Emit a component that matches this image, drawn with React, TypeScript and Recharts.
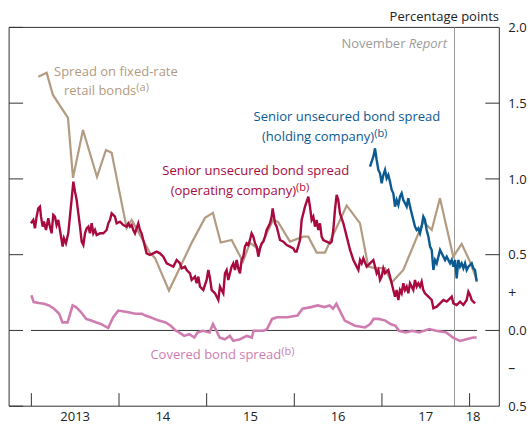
import { LineChart, Line, XAxis, YAxis, ReferenceLine } from "recharts";

// [decimal year, percentage points]
const RETAIL_BONDS: [number, number][] = [
  [2013.079, 1.675], [2013.175, 1.7], [2013.246, 1.554], [2013.418, 1.403],
  [2013.475, 1.007], [2013.589, 1.323], [2013.749, 1.013], [2013.851, 1.191],
  [2013.916, 1.172], [2014.087, 0.677], [2014.144, 0.729], [2014.353, 0.512],
  [2014.41, 0.479], [2014.57, 0.263], [2014.829, 0.578], [2014.981, 0.743],
  [2015.072, 0.776], [2015.16, 0.58], [2015.285, 0.597], [2015.414, 0.454],
  [2015.494, 0.578], [2015.529, 0.564], [2015.597, 0.531], [2015.757, 0.729],
  [2015.814, 0.716], [2015.951, 0.586], [2016.102, 0.619], [2016.16, 0.619],
  [2016.255, 0.514], [2016.35, 0.514], [2016.598, 0.824], [2016.749, 0.708],
  [2016.844, 0.421], [2016.921, 0.411], [2017.035, 0.411], [2017.111, 0.316],
  [2017.244, 0.399], [2017.472, 0.718], [2017.568, 0.663], [2017.662, 0.873],
  [2017.814, 0.487], [2017.91, 0.571], [2018.005, 0.454], [2018.081, 0.333],
];

const SENIOR_OPCO: [number, number][] = [
  [2012.995, 0.707], [2013.022, 0.729], [2013.041, 0.674], [2013.06, 0.751],
  [2013.079, 0.806], [2013.098, 0.817], [2013.11, 0.751], [2013.129, 0.685],
  [2013.144, 0.718], [2013.167, 0.663], [2013.193, 0.74], [2013.212, 0.685],
  [2013.231, 0.641], [2013.25, 0.762], [2013.269, 0.751], [2013.288, 0.696],
  [2013.307, 0.729], [2013.326, 0.663], [2013.345, 0.597], [2013.357, 0.553],
  [2013.372, 0.608], [2013.395, 0.575], [2013.421, 0.641], [2013.44, 0.751],
  [2013.459, 0.861], [2013.479, 0.982], [2013.498, 0.916], [2013.517, 0.861],
  [2013.536, 0.773], [2013.555, 0.685], [2013.574, 0.586], [2013.593, 0.564],
  [2013.612, 0.641], [2013.631, 0.674], [2013.65, 0.685], [2013.669, 0.641],
  [2013.688, 0.707], [2013.707, 0.641], [2013.726, 0.663], [2013.745, 0.63],
  [2013.783, 0.641], [2013.821, 0.641], [2013.859, 0.663], [2013.878, 0.707],
  [2013.897, 0.729], [2013.916, 0.773], [2013.954, 0.751], [2013.973, 0.707],
  [2014.011, 0.718], [2014.049, 0.696], [2014.087, 0.685], [2014.106, 0.707],
  [2014.125, 0.685], [2014.144, 0.696], [2014.163, 0.663], [2014.182, 0.641],
  [2014.22, 0.707], [2014.239, 0.663], [2014.258, 0.641], [2014.277, 0.597],
  [2014.296, 0.553], [2014.315, 0.509], [2014.353, 0.498], [2014.391, 0.509],
  [2014.429, 0.52], [2014.467, 0.509], [2014.506, 0.487], [2014.544, 0.443],
  [2014.582, 0.432], [2014.62, 0.421], [2014.658, 0.465], [2014.696, 0.443],
  [2014.715, 0.41], [2014.753, 0.421], [2014.772, 0.399], [2014.81, 0.377],
  [2014.829, 0.333], [2014.867, 0.355], [2014.886, 0.311], [2014.905, 0.355],
  [2014.924, 0.289], [2014.962, 0.267], [2015.0, 0.333], [2015.019, 0.399],
  [2015.038, 0.344], [2015.057, 0.267], [2015.095, 0.245], [2015.133, 0.201],
  [2015.152, 0.289], [2015.171, 0.267], [2015.19, 0.245], [2015.209, 0.377],
  [2015.228, 0.399], [2015.247, 0.333], [2015.266, 0.377], [2015.285, 0.421],
  [2015.304, 0.443], [2015.323, 0.399], [2015.342, 0.465], [2015.361, 0.41],
  [2015.38, 0.377], [2015.399, 0.465], [2015.418, 0.487], [2015.437, 0.553],
  [2015.456, 0.575], [2015.476, 0.564], [2015.494, 0.597], [2015.513, 0.641],
  [2015.533, 0.619], [2015.552, 0.575], [2015.571, 0.553], [2015.59, 0.487],
  [2015.609, 0.542], [2015.628, 0.575], [2015.647, 0.586], [2015.666, 0.619],
  [2015.685, 0.663], [2015.704, 0.685], [2015.723, 0.707], [2015.742, 0.751],
  [2015.753, 0.806], [2015.768, 0.751], [2015.78, 0.707], [2015.799, 0.685],
  [2015.818, 0.641], [2015.837, 0.597], [2015.875, 0.586], [2015.913, 0.564],
  [2015.951, 0.553], [2015.989, 0.542], [2016.008, 0.52], [2016.027, 0.52],
  [2016.065, 0.597], [2016.084, 0.729], [2016.103, 0.773], [2016.122, 0.817],
  [2016.141, 0.85], [2016.16, 0.883], [2016.179, 0.817], [2016.198, 0.729],
  [2016.217, 0.751], [2016.236, 0.685], [2016.255, 0.729], [2016.274, 0.663],
  [2016.293, 0.707], [2016.312, 0.619], [2016.331, 0.597], [2016.369, 0.586],
  [2016.407, 0.575], [2016.426, 0.586], [2016.445, 0.663], [2016.464, 0.795],
  [2016.483, 0.894], [2016.502, 0.861], [2016.521, 0.773], [2016.56, 0.707],
  [2016.598, 0.619], [2016.636, 0.531], [2016.674, 0.465], [2016.712, 0.421],
  [2016.731, 0.399], [2016.75, 0.465], [2016.769, 0.443], [2016.788, 0.476],
  [2016.826, 0.421], [2016.864, 0.443], [2016.902, 0.465], [2016.921, 0.421],
  [2016.94, 0.377], [2016.959, 0.399], [2016.978, 0.333], [2016.997, 0.355],
  [2017.016, 0.41], [2017.035, 0.377], [2017.073, 0.399], [2017.092, 0.355],
  [2017.111, 0.311], [2017.13, 0.267], [2017.149, 0.223], [2017.168, 0.267],
  [2017.187, 0.201], [2017.206, 0.267], [2017.225, 0.245], [2017.244, 0.311],
  [2017.263, 0.267], [2017.282, 0.289], [2017.301, 0.245], [2017.32, 0.311],
  [2017.339, 0.289], [2017.358, 0.267], [2017.377, 0.333], [2017.396, 0.289],
  [2017.415, 0.311], [2017.434, 0.289], [2017.453, 0.322], [2017.472, 0.267],
  [2017.491, 0.245], [2017.53, 0.223], [2017.568, 0.201], [2017.587, 0.146],
  [2017.625, 0.157], [2017.663, 0.179], [2017.701, 0.201], [2017.739, 0.19],
  [2017.777, 0.212], [2017.796, 0.223], [2017.815, 0.179], [2017.853, 0.168],
  [2017.891, 0.19], [2017.929, 0.168], [2017.967, 0.201], [2017.986, 0.256],
  [2018.005, 0.234], [2018.024, 0.201], [2018.062, 0.179],
];

const SENIOR_HOLDCO: [number, number][] = [
  [2016.864, 1.081], [2016.883, 1.114], [2016.902, 1.147], [2016.921, 1.202],
  [2016.94, 1.125], [2016.959, 1.059], [2016.978, 1.037], [2016.997, 0.971],
  [2017.016, 1.026], [2017.035, 1.059], [2017.054, 1.004], [2017.073, 1.026],
  [2017.092, 0.982], [2017.111, 0.927], [2017.13, 0.905], [2017.149, 0.817],
  [2017.168, 0.861], [2017.187, 0.828], [2017.206, 0.883], [2017.225, 0.905],
  [2017.244, 0.861], [2017.263, 0.839], [2017.282, 0.817], [2017.301, 0.872],
  [2017.32, 0.817], [2017.339, 0.773], [2017.358, 0.729], [2017.377, 0.685],
  [2017.396, 0.663], [2017.415, 0.674], [2017.434, 0.641], [2017.453, 0.685],
  [2017.472, 0.751], [2017.491, 0.729], [2017.51, 0.663], [2017.53, 0.619],
  [2017.549, 0.553], [2017.568, 0.531], [2017.587, 0.399], [2017.606, 0.465],
  [2017.625, 0.443], [2017.644, 0.487], [2017.663, 0.531], [2017.682, 0.509],
  [2017.701, 0.487], [2017.72, 0.465], [2017.739, 0.487], [2017.777, 0.443],
  [2017.796, 0.465], [2017.815, 0.421], [2017.834, 0.465], [2017.853, 0.344],
  [2017.872, 0.465], [2017.891, 0.421], [2017.91, 0.443], [2017.929, 0.41],
  [2017.948, 0.443], [2017.967, 0.399], [2017.986, 0.421], [2018.005, 0.432],
  [2018.024, 0.443], [2018.043, 0.41], [2018.062, 0.399], [2018.081, 0.322],
];

const COVERED_BONDS: [number, number][] = [
  [2013.0, 0.232], [2013.027, 0.187], [2013.085, 0.181], [2013.143, 0.176],
  [2013.201, 0.165], [2013.259, 0.143], [2013.317, 0.11], [2013.355, 0.053],
  [2013.413, 0.053], [2013.471, 0.165], [2013.51, 0.154], [2013.568, 0.12],
  [2013.625, 0.076], [2013.683, 0.065], [2013.741, 0.053], [2013.799, 0.042],
  [2013.876, 0.016], [2013.934, 0.087], [2013.992, 0.131], [2014.108, 0.12],
  [2014.185, 0.11], [2014.262, 0.11], [2014.301, 0.098], [2014.358, 0.087],
  [2014.455, 0.065], [2014.532, 0.053], [2014.59, 0.031], [2014.648, -0.002],
  [2014.686, -0.013], [2014.744, -0.036], [2014.802, -0.025], [2014.86, -0.047],
  [2014.898, -0.013], [2014.956, -0.002], [2015.033, -0.013], [2015.072, 0.042],
  [2015.111, -0.002], [2015.149, -0.047], [2015.207, -0.058], [2015.265, -0.036],
  [2015.304, -0.069], [2015.381, -0.058], [2015.458, -0.036], [2015.516, -0.047],
  [2015.535, -0.002], [2015.573, -0.002], [2015.651, -0.002], [2015.689, 0.009],
  [2015.747, 0.076], [2015.805, 0.087], [2015.921, 0.087], [2016.036, 0.098],
  [2016.094, 0.143], [2016.19, 0.154], [2016.268, 0.165], [2016.344, 0.154],
  [2016.403, 0.165], [2016.441, 0.143], [2016.48, 0.176], [2016.519, 0.131],
  [2016.576, 0.065], [2016.692, 0.031], [2016.808, 0.02], [2016.866, 0.042],
  [2016.905, 0.076], [2016.962, 0.076], [2017.039, 0.065], [2017.097, 0.042],
  [2017.155, 0.031], [2017.193, -0.002], [2017.271, -0.013], [2017.347, -0.002],
  [2017.425, -0.013], [2017.54, 0.009], [2017.618, -0.002], [2017.733, -0.013],
  [2017.811, -0.047], [2017.889, -0.069], [2017.965, -0.058], [2018.042, -0.047],
  [2018.081, -0.047],
];

const YEAR_STARTS = [2013, 2014, 2015, 2016, 2017, 2018];
const YEAR_LABEL_AT = [2013.5, 2014.5, 2015.5, 2016.5, 2017.5, 2018.04];
const YEAR_LABELS = ["2013", "14", "15", "16", "17", "18"];
const VALUE_TICKS = [-0.5, 0, 0.5, 1, 1.5, 2];
const RIGHT_TICKS = [-0.5, -0.25, 0, 0.25, 0.5, 1, 1.5, 2];
const NOV_REPORT = 2017.828;
const X_DOMAIN: [number, number] = [2012.746, 2018.339];
const Y_DOMAIN: [number, number] = [-0.5, 2];
const ZERO_LINE_FROM = 2012.995;
const ZERO_LINE_TO = 2018.085;

const TAN = "#b29b80";
const CRIMSON = "#a80a3f";
const BLUE = "#0b5a92";
const PINK = "#cf7db1";
const FRAME = "#333333";
const FONT = "'Open Sans', sans-serif";

const rows = (pts: [number, number][]) => pts.map(([t, v]) => ({ t, v }));

const Blank = () => <g />;

// year starts get an inward mark from the bottom frame, mid-years get the label
const YearTick = (props: any) => {
  const { x, y, payload } = props;
  const v = payload.value as number;
  const i = YEAR_LABEL_AT.indexOf(v);
  if (i < 0) return <line x1={x} x2={x} y1={y} y2={y - 13} stroke={FRAME} />;
  return (
    <text x={x} y={y + 15} textAnchor="middle" fontSize={13} fill="#222" fontFamily={FONT}>
      {YEAR_LABELS[i]}
    </text>
  );
};

const rightLabel = (v: number) => {
  if (v === 0.25) return "+";
  if (v === -0.25) return "–";
  return Math.abs(v).toFixed(1);
};

// label sits 9px right of the frame; numeric ticks also get a 14px inward mark
const RightTick = (props: any) => {
  const { x, y, payload } = props;
  const v = payload.value as number;
  const isSign = Math.abs(v) === 0.25;
  const edge = x - 9;
  return (
    <g>
      {!isSign && v !== 2 && v !== -0.5 && (
        <line x1={edge} x2={edge - 14} y1={y} y2={y} stroke={FRAME} />
      )}
      <text x={x} y={y} dy="0.36em" fontSize={isSign ? 14 : 13} fill="#222" fontFamily={FONT}>
        {rightLabel(v)}
      </text>
    </g>
  );
};

export default function App() {
  return (
    <div style={{ position: "fixed", left: 0, top: 0, width: 530, height: 425, background: "#fff", fontFamily: FONT }}>
      <LineChart width={530} height={425} margin={{ top: 27.4, right: 0, bottom: 0, left: 0 }}>
        <XAxis
          xAxisId="year"
          type="number"
          dataKey="t"
          domain={X_DOMAIN}
          allowDataOverflow
          ticks={[...YEAR_STARTS, ...YEAR_LABEL_AT].sort((a, b) => a - b)}
          tickLine={false}
          tickSize={0}
          tickMargin={0}
          tick={YearTick}
          height={18.8}
          interval={0}
          stroke={FRAME}
        />
        <YAxis
          yAxisId="main"
          orientation="right"
          type="number"
          domain={Y_DOMAIN}
          allowDataOverflow
          ticks={RIGHT_TICKS}
          tickLine={false}
          tickSize={0}
          tickMargin={9}
          width={30.7}
          interval={0}
          stroke={FRAME}
          tick={RightTick}
        />
        <YAxis
          yAxisId="left"
          orientation="left"
          type="number"
          domain={Y_DOMAIN}
          allowDataOverflow
          ticks={VALUE_TICKS}
          tickSize={-14}
          tick={Blank}
          width={9.1}
          interval={0}
          stroke={FRAME}
        />
        <ReferenceLine xAxisId="year" yAxisId="main" y={2} stroke={FRAME} />
        <ReferenceLine
          xAxisId="year"
          yAxisId="main"
          segment={[{ x: ZERO_LINE_FROM, y: 0 }, { x: ZERO_LINE_TO, y: 0 }]}
          stroke={FRAME}
        />
        <ReferenceLine xAxisId="year" yAxisId="main" x={NOV_REPORT} stroke="#9b9b9b" />
        <Line xAxisId="year" yAxisId="main" data={rows(RETAIL_BONDS)} dataKey="v" type="linear" stroke={TAN} strokeWidth={2.2} dot={false} isAnimationActive={false} />
        <Line xAxisId="year" yAxisId="main" data={rows(COVERED_BONDS)} dataKey="v" type="linear" stroke={PINK} strokeWidth={2.6} dot={false} isAnimationActive={false} />
        <Line xAxisId="year" yAxisId="main" data={rows(SENIOR_OPCO)} dataKey="v" type="linear" stroke={CRIMSON} strokeWidth={2.4} dot={false} isAnimationActive={false} />
        <Line xAxisId="year" yAxisId="main" data={rows(SENIOR_HOLDCO)} dataKey="v" type="linear" stroke={BLUE} strokeWidth={2.4} dot={false} isAnimationActive={false} />
      </LineChart>
      <svg width={530} height={425} style={{ position: "absolute", left: 0, top: 0, pointerEvents: "none" }} fontFamily={FONT} fontSize={13}>
        <text x={499} y={21} textAnchor="end" fill="#222">Percentage points</text>
        <text x={447} y={48} textAnchor="end" fill="#9b9b9b">
          November <tspan fontStyle="italic">Report</tspan>
        </text>
        <text x={54} y={76} fill={TAN}>Spread on fixed-rate</text>
        <text x={64} y={95} fill={TAN}>
          retail bonds<tspan fontSize={11} dy={-4}>(a)</tspan>
        </text>
        <text x={253.5} y={121} fill={BLUE}>Senior unsecured bond spread</text>
        <text x={262} y={141} fill={BLUE}>
          (holding company)<tspan fontSize={11} dy={-4}>(b)</tspan>
        </text>
        <text x={162.3} y={175} fill={CRIMSON}>Senior unsecured bond spread</text>
        <text x={170.7} y={195} fill={CRIMSON}>
          (operating company)<tspan fontSize={11} dy={-4}>(b)</tspan>
        </text>
        <text x={150.4} y={359} fill={PINK}>
          Covered bond spread<tspan fontSize={11} dy={-4}>(b)</tspan>
        </text>
      </svg>
    </div>
  );
}
